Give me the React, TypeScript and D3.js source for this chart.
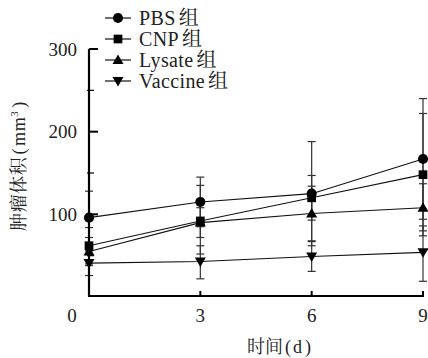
import { useEffect, useRef } from 'react'
import * as d3 from 'd3'

const DAYS = [0, 3, 6, 9]
const SERIES = ['PBS', 'CNP', 'Lysate', 'Vaccine']
const SYMBOLS = ['circle', 'square', 'up', 'down']

// mean values per series
const PBS = [96, 115, 125, 167]
const CNP = [62, 92, 120, 148]
const LYSATE = [55, 90, 101, 108]
const VACCINE = [41, 43, 49, 54]

// error bar ends (upper / lower)
const PBS_HI = [128, 145, 188, 240]
const PBS_LO = [64, 85, 62, 94]
const CNP_HI = [84, 135, 147, 222]
const CNP_LO = [40, 52, 93, 74]
const LYSATE_HI = [72, 108, 134, 137]
const LYSATE_LO = [38, 72, 68, 80]
const VACCINE_HI = [56, 62, 67, 86]
const VACCINE_LO = [26, 22, 31, 19]

const Y_MAJOR = [100, 200, 300]
const Y_MINOR = [50, 150, 250]

const FONT = '"Liberation Serif", "Noto Serif CJK SC", "Noto Sans CJK SC", serif'

const W = 428
const H = 358

function symbolPath(kind) {
  if (kind === 'circle') {
    return d3.symbol().type(d3.symbolCircle).size(80)()
  }
  if (kind === 'square') {
    return d3.symbol().type(d3.symbolSquare).size(76)()
  }
  if (kind === 'up') {
    return 'M0,-5.5L5.5,4L-5.5,4Z'
  }
  return 'M0,5.5L5.5,-4L-5.5,-4Z'
}

export default function App() {
  const svgRef = useRef(null)

  useEffect(() => {
    const svg = d3.select(svgRef.current)
    svg.selectAll('*').remove()

    const x = d3.scaleLinear().domain([0, 9]).range([89, 423])
    const y = d3.scaleLinear().domain([0, 300]).range([297, 49])

    const means = [PBS, CNP, LYSATE, VACCINE]
    const his = [PBS_HI, CNP_HI, LYSATE_HI, VACCINE_HI]
    const los = [PBS_LO, CNP_LO, LYSATE_LO, VACCINE_LO]

    const g = svg.append('g')

    // error bars
    means.forEach((vals, s) => {
      vals.forEach((v, i) => {
        const cx = x(DAYS[i])
        g.append('line')
          .attr('x1', cx).attr('x2', cx)
          .attr('y1', y(his[s][i])).attr('y2', y(los[s][i]))
          .attr('stroke', '#333').attr('stroke-width', 1.2)
        ;[his[s][i], los[s][i]].forEach(e => {
          g.append('line')
            .attr('x1', cx - 4).attr('x2', cx + 4)
            .attr('y1', y(e)).attr('y2', y(e))
            .attr('stroke', '#333').attr('stroke-width', 1.2)
        })
      })
    })

    // lines
    const line = d3.line().x((d, i) => x(DAYS[i])).y(d => y(d))
    means.forEach(vals => {
      g.append('path')
        .attr('d', line(vals))
        .attr('fill', 'none')
        .attr('stroke', '#111')
        .attr('stroke-width', 1.1)
    })

    // markers
    means.forEach((vals, s) => {
      vals.forEach((v, i) => {
        g.append('path')
          .attr('d', symbolPath(SYMBOLS[s]))
          .attr('transform', `translate(${x(DAYS[i])},${y(v)})`)
          .attr('fill', '#000')
      })
    })

    // axes
    const axisColor = '#000'
    g.append('line')
      .attr('x1', x(0)).attr('x2', x(0))
      .attr('y1', y(300)).attr('y2', 296)
      .attr('stroke', axisColor).attr('stroke-width', 2.2)
    g.append('line')
      .attr('x1', x(0) - 1).attr('x2', x(9) + 1)
      .attr('y1', 296).attr('y2', 296)
      .attr('stroke', axisColor).attr('stroke-width', 2.2)

    Y_MAJOR.forEach(t => {
      g.append('line')
        .attr('x1', x(0)).attr('x2', x(0) + 9)
        .attr('y1', y(t)).attr('y2', y(t))
        .attr('stroke', axisColor).attr('stroke-width', 2)
      g.append('text')
        .attr('x', 77).attr('y', y(t))
        .attr('dy', '0.35em')
        .attr('text-anchor', 'end')
        .attr('font-size', 19)
        .attr('font-family', FONT)
        .attr('fill', '#222')
        .text(t)
    })
    Y_MINOR.forEach(t => {
      g.append('line')
        .attr('x1', x(0) - 2).attr('x2', x(0) + 5)
        .attr('y1', y(t)).attr('y2', y(t))
        .attr('stroke', axisColor).attr('stroke-width', 1.2)
    })

    DAYS.forEach(d => {
      if (d > 0) {
        g.append('line')
          .attr('x1', x(d)).attr('x2', x(d))
          .attr('y1', 296).attr('y2', 291)
          .attr('stroke', axisColor).attr('stroke-width', 2)
      }
      g.append('text')
        .attr('x', d === 0 ? x(d) - 17 : x(d))
        .attr('y', 322)
        .attr('text-anchor', 'middle')
        .attr('font-size', 19)
        .attr('font-family', FONT)
        .attr('fill', '#222')
        .text(d)
    })

    // axis titles
    const xt = g.append('text')
      .attr('x', 279).attr('y', 353)
      .attr('text-anchor', 'middle')
      .attr('font-size', 18)
      .attr('font-family', FONT)
      .attr('fill', '#222')
    xt.append('tspan').text('时间')
    xt.append('tspan').attr('dx', 2).text('(')
    xt.append('tspan').attr('dx', 2).text('d')
    xt.append('tspan').attr('dx', 3).text(')')

    const yt = g.append('text')
      .attr('transform', 'translate(25,166) rotate(-90)')
      .attr('text-anchor', 'middle')
      .attr('font-size', 18)
      .attr('font-family', FONT)
      .attr('fill', '#222')
      .attr('letter-spacing', 0.6)
    yt.append('tspan').text('肿瘤体积')
    yt.append('tspan').attr('dx', 2).text('(')
    yt.append('tspan').attr('dx', 2).text('mm')
    yt.append('tspan').attr('dy', -7).attr('font-size', 11).text('3')
    yt.append('tspan').attr('dy', 7).attr('dx', 3).text(')')

    // legend
    const legY = d3.scalePoint().domain(SERIES).range([18, 81])
    SERIES.forEach((name, s) => {
      const ly = legY(name)
      g.append('line')
        .attr('x1', 105).attr('x2', 131)
        .attr('y1', ly).attr('y2', ly)
        .attr('stroke', '#111').attr('stroke-width', 1.2)
      g.append('path')
        .attr('d', symbolPath(SYMBOLS[s]))
        .attr('transform', `translate(118,${ly})`)
        .attr('fill', '#000')
      const t = g.append('text')
        .attr('x', 139).attr('y', ly)
        .attr('dy', '0.35em')
        .attr('font-size', 20)
        .attr('font-family', FONT)
        .attr('fill', '#222')
        .attr('letter-spacing', 0.4)
      t.append('tspan').text(name)
      t.append('tspan').attr('dx', 3).text('组')
    })
  }, [])

  return (
    <svg
      ref={svgRef}
      width={W}
      height={H}
      style={{ position: 'absolute', left: 0, top: 0, background: '#fff' }}
    />
  )
}
